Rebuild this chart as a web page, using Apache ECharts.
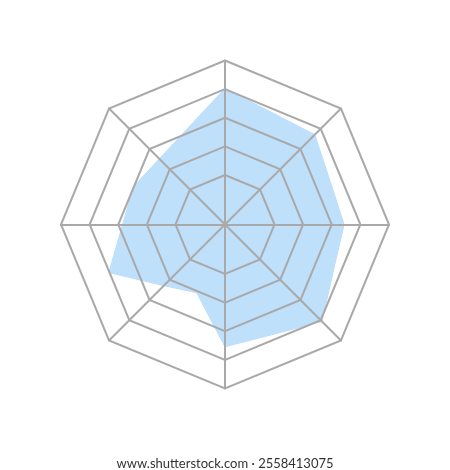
<!DOCTYPE html>
<html><head><meta charset="utf-8">
<script src="https://cdn.jsdelivr.net/npm/echarts@6/dist/echarts.min.js"></script>
<style>html,body{margin:0;padding:0;background:#fff}#c{width:450px;height:470px}</style>
</head><body><div id="c"></div>
<script>
// Grid: 8 spokes, 4 intervals (5 rings, inner ring offset from centre)
const gridAxes = ['A', 'B', 'C', 'D', 'E', 'F', 'G', 'H'];
const gridMin = 0;
const gridMax = 4;
// Data polygon: vertices on 16 directions (counter-clockwise from top, degrees)
const dataAngles = ['90', '112.5', '135', '157.5', '180', '202.5', '225', '247.5',
                    '270', '292.5', '315', '337.5', '0', '22.5', '45', '67.5'];
const dataMax = 100;
const dataValues = [83.0, 62.2, 56.6, 60.4, 62.4, 76.6, 52.7, 45.0,
                    74.5, 72.9, 83.6, 71.7, 72.6, 69.3, 77.4, 74.0];
const caption = 'www.shutterstock.com · 2558413075';

const chart = echarts.init(document.getElementById('c'), null, {renderer: 'canvas'});
const gridLine = {color: '#a9a9a9', width: 2};
const cx = 225, cy = 224.5;
const innerR = 49.5, outerR = 164;
chart.setOption({
  backgroundColor: '#ffffff',
  animation: false,
  title: {
    text: caption, left: 'center', top: 452,
    textStyle: {fontSize: 13, fontWeight: 'normal', color: '#333333', fontFamily: 'Lato'}
  },
  radar: [
    {
      center: [cx, cy], radius: [innerR, outerR], startAngle: 90, shape: 'polygon',
      splitNumber: 4, z: 5,
      indicator: gridAxes.map(n => ({name: n, min: gridMin, max: gridMax})),
      axisName: {show: false},
      axisLine: {show: true, lineStyle: gridLine},
      splitLine: {show: true, lineStyle: gridLine},
      splitArea: {show: false}
    },
    {
      center: [cx, cy], radius: innerR, startAngle: 90, shape: 'polygon',
      splitNumber: 1, z: 5,
      indicator: gridAxes.map(n => ({name: n, min: gridMin, max: gridMax})),
      axisName: {show: false},
      axisLine: {show: true, lineStyle: gridLine},
      splitLine: {show: false},
      splitArea: {show: false}
    },
    {
      center: [cx, cy], radius: outerR, startAngle: 90, shape: 'polygon',
      z: 0,
      indicator: dataAngles.map(n => ({name: n, min: 0, max: dataMax})),
      axisName: {show: false},
      axisLine: {show: false},
      splitLine: {show: false},
      splitArea: {show: false}
    }
  ],
  series: [{
    type: 'radar', radarIndex: 2, z: 1,
    symbol: 'none',
    lineStyle: {width: 1, color: '#b4d9fa'},
    areaStyle: {color: '#bfe0fb', opacity: 1},
    data: [{value: dataValues}]
  }]
});
</script>
</body></html>
